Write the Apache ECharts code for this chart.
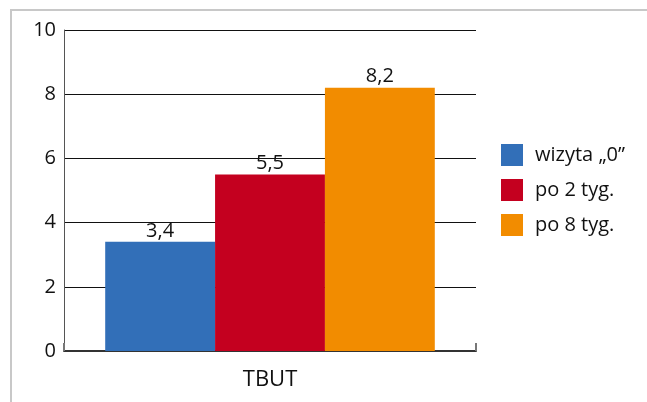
<!DOCTYPE html>
<html>
<head>
<meta charset="utf-8">
<script src="https://cdn.jsdelivr.net/npm/echarts@6/dist/echarts.min.js"></script>
<style>
  html, body { margin: 0; padding: 0; background: #fff; }
  #chart { width: 647px; height: 402px; }
</style>
</head>
<body>
<div id="chart"></div>
<script>
const categories = ['TBUT'];
const seriesNames = ['wizyta \u201e0\u201d', 'po 2 tyg.', 'po 8 tyg.'];
const seriesValues = [[3.4], [5.5], [8.2]];
const seriesColors = ['#326fb8', '#c4001f', '#f28c00'];
const yTicks = [0, 2, 4, 6, 8, 10];

const FONT = '"Open Sans", "Noto Sans", sans-serif';
const fmt = v => String(v).replace('.', ',');

const chart = echarts.init(document.getElementById('chart'), null, { renderer: 'canvas' });

chart.setOption({
  animation: false,
  backgroundColor: '#fff',
  textStyle: { fontFamily: FONT },
  graphic: [
    {
      type: 'polyline',
      shape: { points: [[11, 402], [11, 10], [647, 10]] },
      style: { stroke: '#c8c8c8', lineWidth: 2, fill: null },
      silent: true
    }
  ],
  grid: { left: 64, top: 30, right: 171, bottom: 51, containLabel: false },
  legend: {
    orient: 'vertical',
    left: 501,
    top: 144,
    padding: 0,
    itemWidth: 22,
    itemHeight: 22,
    itemGap: 13,
    icon: 'rect',
    textStyle: { fontFamily: FONT, fontSize: 20, color: '#111', padding: [0, 0, 0, 7] },
    data: seriesNames
  },
  xAxis: {
    type: 'category',
    data: categories,
    axisLine: { show: true, lineStyle: { color: '#333', width: 2 } },
    axisTick: { show: true, inside: true, length: 8, lineStyle: { color: '#777', width: 2 } },
    axisLabel: { fontFamily: FONT, fontSize: 22, color: '#111', margin: 18 }
  },
  yAxis: {
    type: 'value',
    min: 0,
    max: 10,
    interval: 2,
    axisLine: { show: true, lineStyle: { color: '#555', width: 1 } },
    axisTick: { show: false },
    splitLine: { show: true, lineStyle: { color: '#111', width: 1 } },
    axisLabel: {
      fontFamily: FONT, fontSize: 20, color: '#111', margin: 8,
      formatter: v => (yTicks.includes(v) ? String(v) : '')
    }
  },
  series: seriesNames.map((name, i) => ({
    name: name,
    type: 'bar',
    data: seriesValues[i],
    barGap: '0%',
    barCategoryGap: '20%',
    itemStyle: { color: seriesColors[i] },
    label: {
      show: true,
      position: 'top',
      distance: 1,
      fontFamily: FONT,
      fontSize: 20,
      color: '#111',
      formatter: p => fmt(p.value)
    }
  }))
});
</script>
</body>
</html>
